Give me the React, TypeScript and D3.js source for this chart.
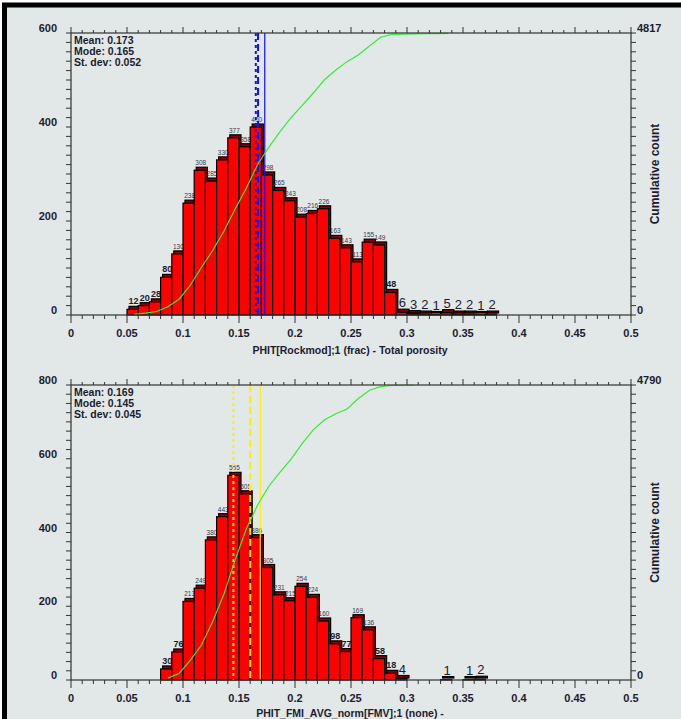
import React from "react";
import * as d3 from "d3";

// top panel: total porosity
const topBinStart = 0.05;
const topCounts = [12, 20, 28, 80, 130, 238, 308, 285, 330, 377, 358, 400, 298, 265, 243, 208, 216, 226, 163, 143, 113, 155, 149, 48, 6, 3, 2, 1, 5, 2, 2, 1, 2];
const topStats = ["Mean: 0.173", "Mode: 0.165", "St. dev: 0.052"];
const topLines = { mode: 0.165, median: 0.167, mean: 0.173 };
const topYTicks = [0, 200, 400, 600];
const topTotal = 4817;
const topCurveEnd = 0.33;

// bottom panel: FMI porosity
const botBinStart = 0.08;
const botCounts = [30, 76, 213, 249, 380, 443, 555, 505, 386, 305, 231, 215, 254, 224, 160, 98, 77, 169, 136, 58, 18, 4, 0, 0, 0, 1, 0, 1, 2];
const botStats = ["Mean: 0.169", "Mode: 0.145", "St. dev: 0.045"];
const botLines = { mode: 0.145, median: 0.16, mean: 0.169 };
const botYTicks = [0, 200, 400, 600, 800];
const botTotal = 4790;
const botCurveEnd = 0.3;

const xTicks = [0, 0.05, 0.1, 0.15, 0.2, 0.25, 0.3, 0.35, 0.4, 0.45, 0.5];
const binWidth = 0.01;

const BG = "#e2e7e7";
const TXT = "#1c1c30";
const FONT = "'Liberation Sans', Arial, sans-serif";

function Panel({ top, bottom, counts, binStart, yMax, yMinor, total, stats, lines, lineColor, yTicks, curveEnd, title }) {
  const x = d3.scaleLinear().domain([0, 0.5]).range([71, 631]);
  const y = d3.scaleLinear().domain([0, yMax]).range([bottom, top]);
  const yc = d3.scaleLinear().domain([0, total]).range([bottom, top]);

  const bins = counts.map((c, i) => ({ x0: binStart + i * binWidth, c }));
  let run = 0;
  const cum = bins.map((b) => {
    run += b.c;
    return { x: b.x0 + 0.0065, v: run, x0: b.x0 };
  }).filter((d) => d.x0 <= curveEnd + 1e-9);
  const line = d3.line().x((d) => x(d.x)).y((d) => yc(d.v));

  const minor = d3.range(0, 0.5001, 0.01);
  const yMinorTicks = d3.range(0, yMax + 0.1, yMinor);

  const labelSize = (v) => (v < 10 ? 13 : v < 100 ? 9 : 6.5);

  return (
    <g fontFamily={FONT}>
      {/* bars with dark shadow */}
      {bins.filter((b) => b.c > 0).map((b, i) => (
        <g key={i}>
          <rect x={x(b.x0) + 2} y={y(b.c) - 3} width={x(b.x0 + binWidth) - x(b.x0)} height={bottom - y(b.c) + 3 - 2}
            fill="#8a0000" stroke="#000" strokeWidth={1.2} />
          <rect x={x(b.x0)} y={y(b.c)} width={x(b.x0 + binWidth) - x(b.x0)} height={bottom - y(b.c)}
            fill="#ff0000" stroke="#000" strokeWidth={1.2} />
          <text x={x(b.x0 + binWidth / 2) + 1} y={y(b.c) - 5} textAnchor="middle"
            fontSize={labelSize(b.c)} fontWeight={b.c >= 10 && b.c < 100 ? "bold" : "normal"}
            fill={b.c >= 100 ? "#3a3a50" : TXT}>{b.c}</text>
        </g>
      ))}
      {/* stat lines */}
      <line x1={x(lines.mode)} x2={x(lines.mode)} y1={top} y2={bottom} stroke={lineColor} strokeWidth={2} strokeDasharray="3,3" />
      <line x1={x(lines.median)} x2={x(lines.median)} y1={top} y2={bottom} stroke={lineColor} strokeWidth={2} strokeDasharray="7,4" />
      <line x1={x(lines.mean)} x2={x(lines.mean)} y1={top} y2={bottom} stroke={lineColor} strokeWidth={1.2} />
      {/* cumulative curve */}
      <path d={line(cum)} fill="none" stroke="#33ee33" strokeWidth={1.2} />
      {/* frame */}
      <rect x={x(0)} y={top} width={x(0.5) - x(0)} height={bottom - top} fill="none" stroke="#333" strokeWidth={1.2} />
      {/* x ticks bottom and top */}
      {minor.map((t, i) => {
        const major = i % 5 === 0;
        return (
          <g key={i}>
            <line x1={x(t)} x2={x(t)} y1={bottom} y2={bottom + (major ? 8 : 4)} stroke="#333" />
            <line x1={x(t)} x2={x(t)} y1={top} y2={top - (major ? 6 : 3)} stroke="#333" />
          </g>
        );
      })}
      {xTicks.map((t) => (
        <text key={t} x={x(t)} y={bottom + 22} textAnchor="middle" fontSize={11} fontWeight="bold" fill={TXT}>{t}</text>
      ))}
      {/* y ticks left and right */}
      {yMinorTicks.map((t) => (
        <g key={t}>
          <line x1={x(0) - 5} x2={x(0)} y1={y(t)} y2={y(t)} stroke="#333" />
          <line x1={x(0.5)} x2={x(0.5) + 5} y1={y(t)} y2={y(t)} stroke="#333" />
        </g>
      ))}
      {yTicks.map((t) => (
        <text key={t} x={57} y={y(t) - 1} textAnchor="end" fontSize={11} fontWeight="bold" fill={TXT}>{t}</text>
      ))}
      <text x={637} y={yc(total) - 1} fontSize={11} fontWeight="bold" fill={TXT}>{total}</text>
      <text x={637} y={yc(0) - 1} fontSize={11} fontWeight="bold" fill={TXT}>0</text>
      <text transform={`translate(659,${(top + bottom) / 2}) rotate(-90)`} textAnchor="middle" fontSize={12} fontWeight="bold" fill={TXT}>Cumulative count</text>
      {/* stats */}
      {stats.map((s, i) => (
        <text key={s} x={74} y={top + 11 + i * 11} fontSize={10.5} fontWeight="bold" fill={TXT}>{s}</text>
      ))}
      <text x={350} y={Math.min(bottom + 39, 717)} textAnchor="middle" fontSize={10.5} fontWeight="bold" fill={TXT}>{title}</text>
    </g>
  );
}

export default function App() {
  return (
    <svg width={681} height={719} style={{ position: "absolute", left: 0, top: 0, background: "#fff" }}>
      <rect x={4.5} y={5} width={700} height={740} fill={BG} stroke="#000" strokeWidth={5} />
      <Panel top={33} bottom={315} counts={topCounts} binStart={topBinStart} yMax={600} yMinor={20}
        total={topTotal} stats={topStats} lines={topLines} lineColor="#1010ff" yTicks={topYTicks}
        curveEnd={topCurveEnd} title="PHIT[Rockmod];1 (frac) - Total porosity" />
      <Panel top={385} bottom={680} counts={botCounts} binStart={botBinStart} yMax={800} yMinor={25}
        total={botTotal} stats={botStats} lines={botLines} lineColor="#ffee00" yTicks={botYTicks}
        curveEnd={botCurveEnd} title="PHIT_FMI_AVG_norm[FMV];1 (none) -" />
    </svg>
  );
}
